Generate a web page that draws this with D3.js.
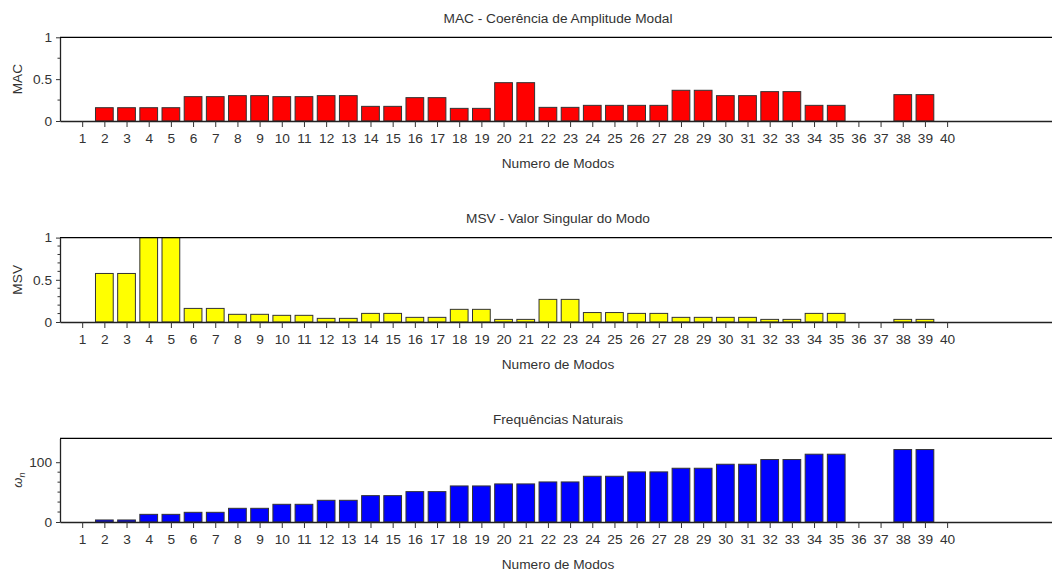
<!DOCTYPE html>
<html><head><meta charset="utf-8">
<script src="https://cdn.jsdelivr.net/npm/d3@7"></script>
<style>
body{margin:0;background:#fff}
svg{display:block}
text{font-family:"Liberation Sans",Arial,Helvetica,sans-serif;fill:#333}
</style></head>
<body><svg id="chart" width="1052" height="573"></svg>
<script>
// ---- data ----
const modes = [1,2,3,4,5,6,7,8,9,10,11,12,13,14,15,16,17,18,19,20,21,22,23,24,25,26,27,28,29,30,31,32,33,34,35,36,37,38,39,40];
const macValues = [0,0.159,0.159,0.159,0.159,0.291,0.291,0.303,0.303,0.291,0.291,0.303,0.303,0.175,0.175,0.279,0.279,0.151,0.151,0.458,0.458,0.163,0.163,0.187,0.187,0.187,0.187,0.367,0.367,0.303,0.303,0.351,0.351,0.187,0.187,0,0,0.315,0.315,0];
const msvValues = [0,0.575,0.575,1.0,1.0,0.161,0.161,0.091,0.091,0.079,0.079,0.043,0.043,0.102,0.102,0.055,0.055,0.150,0.150,0.031,0.031,0.268,0.268,0.112,0.112,0.102,0.102,0.055,0.055,0.055,0.055,0.031,0.031,0.102,0.102,0,0,0.031,0.031,0];
const freqValues = [0,3.4,3.4,12.8,12.8,16.2,16.2,22.9,22.9,29.6,29.6,36.3,36.3,44.1,44.1,50.8,50.8,60.3,60.3,63.7,63.7,67.0,67.0,76.5,76.5,83.8,83.8,89.9,89.9,96.6,96.6,104.5,104.5,113.4,113.4,0,0,121.2,121.2,0];
const xDomain = [0, 45];
const titles = ["MAC - Coerência de Amplitude Modal","MSV - Valor Singular do Modo","Frequências Naturais"];
const yLabels = ["MAC","MSV","ω"];
const xLabel = "Numero de Modos";
const macTicks = [0,0.5,1], macMinor = [0.25,0.75];
const msvTicks = [0,0.5,1], msvMinor = [0.1,0.2,0.3,0.4,0.6,0.7,0.8,0.9];
const freqTicks = [0,100], freqMinor = [16.67,33.33,50,66.67,83.33];

// ---- layout ----
const svg = d3.select("#chart");
const left = 60, right = 1058;
const FS = "13.7px";
const panels = [
  {values: macValues, color:"#ff0000", domain:[0,1], ticks:macTicks, minor:macMinor, fmt:d3.format("~g"), top:37.3, bottom:121, title:titles[0], ylab:yLabels[0]},
  {values: msvValues, color:"#ffff00", domain:[0,1], ticks:msvTicks, minor:msvMinor, fmt:d3.format("~g"), top:237.6, bottom:322, title:titles[1], ylab:yLabels[1]},
  {values: freqValues, color:"#0000ff", domain:[0,140], ticks:freqTicks, minor:freqMinor, fmt:d3.format("d"), top:438.3, bottom:522, title:titles[2], ylab:yLabels[2], sub:"n"}
];
const x = d3.scaleLinear().domain(xDomain).range([left, right]);
const barW = 0.8;

panels.forEach(p => {
  const y = d3.scaleLinear().domain(p.domain).range([p.bottom, p.top]);
  const g = svg.append("g");
  // bars
  g.selectAll("rect.bar").data(modes.map((m,i)=>({m, v:p.values[i]})).filter(d=>d.v>0))
    .enter().append("rect")
    .attr("x", d => x(d.m - barW/2))
    .attr("width", d => x(d.m + barW/2) - x(d.m - barW/2))
    .attr("y", d => y(Math.min(d.v, p.domain[1])))
    .attr("height", d => y(0) - y(Math.min(d.v, p.domain[1])))
    .attr("fill", p.color).attr("stroke", "#333").attr("stroke-width", 1);
  // box top line
  g.append("line").attr("x1", left).attr("x2", 1052).attr("y1", p.top).attr("y2", p.top)
    .attr("stroke","#000").attr("stroke-width",1.3);
  // x axis
  const xAxis = d3.axisBottom(x).tickValues(modes).tickSize(6).tickPadding(6).tickSizeOuter(0);
  const xg = g.append("g").attr("transform", `translate(0,${p.bottom})`).call(xAxis);
  xg.select(".domain").attr("stroke","#222").attr("stroke-width",1.3);
  xg.selectAll(".tick line").attr("stroke","#333");
  xg.selectAll("text").style("font-size",FS).attr("fill","#333");
  // y axis
  const yAxis = d3.axisLeft(y).tickValues(p.ticks).tickFormat(p.fmt).tickSize(4).tickPadding(4).tickSizeOuter(0);
  const yg = g.append("g").attr("transform", `translate(${left},0)`).call(yAxis);
  yg.select(".domain").attr("stroke","#222").attr("stroke-width",1.3);
  yg.selectAll(".tick line").attr("stroke","#333");
  yg.selectAll("text").style("font-size",FS).attr("fill","#333");
  // minor ticks
  g.selectAll("line.minor").data(p.minor).enter().append("line")
    .attr("x1", left - 2.5).attr("x2", left).attr("y1", d=>y(d)).attr("y2", d=>y(d))
    .attr("stroke","#333");
  // title
  g.append("text").attr("x", 558).attr("y", p.top - 14.5).attr("text-anchor","middle")
    .style("font-size",FS).text(p.title);
  // x label
  g.append("text").attr("x", 558).attr("y", p.bottom + 47).attr("text-anchor","middle")
    .style("font-size",FS).text(xLabel);
  // y label
  const yl = g.append("text").attr("transform", `translate(22,${(p.top+p.bottom)/2}) rotate(-90)`)
    .attr("text-anchor","middle").style("font-size",FS);
  if (p.sub) {
    yl.style("font-style","italic").attr("fill","#777").style("font-size","13px");
    yl.append("tspan").text(p.ylab);
    yl.append("tspan").attr("dy",3).style("font-size","9px").text(p.sub);
  } else {
    yl.text(p.ylab);
  }
});
</script></body></html>
